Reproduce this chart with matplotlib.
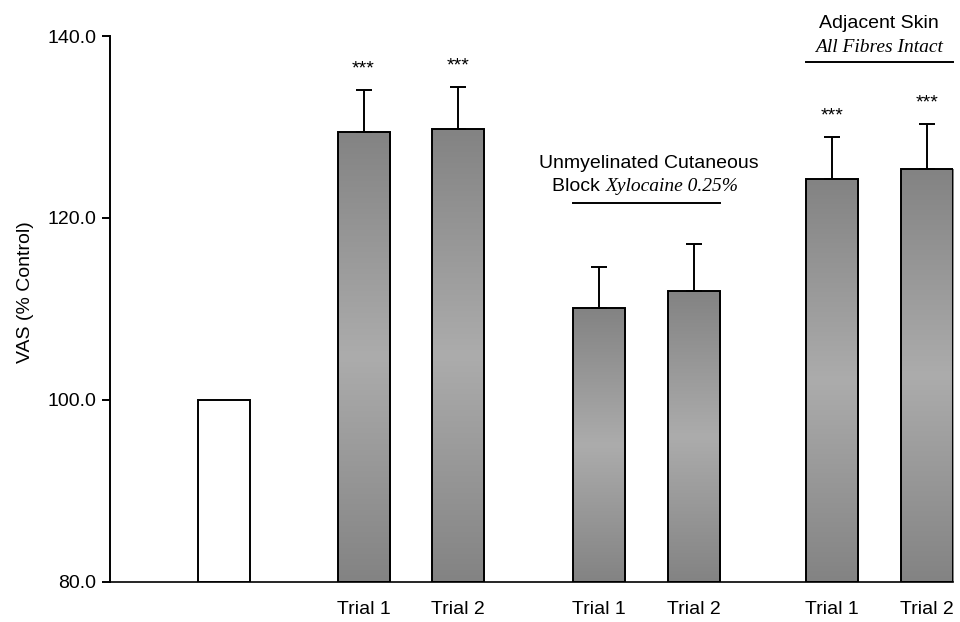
import numpy as np
import matplotlib.pyplot as plt
from matplotlib.colors import LinearSegmentedColormap

# values
positions = [0, 2.68, 4.5, 7.2, 9.02, 11.67, 13.5]
means = [100.0, 129.5, 129.8, 110.1, 112.0, 124.3, 125.4]
sems = [0.0, 4.6, 4.6, 4.5, 5.1, 4.6, 4.9]
tick_labels = ["", "Trial 1", "Trial 2", "Trial 1", "Trial 2", "Trial 1", "Trial 2"]
stars = ["", "***", "***", "", "", "***", "***"]

plt.rcParams['font.family'] = ['Liberation Sans', 'DejaVu Sans']

fig = plt.figure(figsize=(9.6, 6.22), dpi=100)
ax = fig.add_axes([0.1146, 0.065, 0.8781, 0.877])

grey = LinearSegmentedColormap.from_list("g", ["#838383", "#acacac", "#838383"])
grad = np.linspace(0, 1, 256).reshape(-1, 1)

width = 1.0
for i, (x, m, s) in enumerate(zip(positions, means, sems)):
    if i == 0:
        ax.bar(x, m - 80, bottom=80, width=width, color="white",
               edgecolor="black", linewidth=1.4, zorder=3)
        continue
    bar = ax.bar(x, m - 80, bottom=80, width=width, color="none",
                 edgecolor="black", linewidth=1.4, zorder=3)[0]
    im = ax.imshow(grad, cmap=grey, aspect="auto", zorder=2,
                   extent=[x - width / 2, x + width / 2, 80, m])
    im.set_clip_path(bar)
    ax.errorbar(x, m, yerr=[[0], [s]], fmt="none", ecolor="black",
                elinewidth=1.4, capsize=5.6, capthick=1.4, zorder=2)
    if stars[i]:
        ax.text(x, m + s + 2.3, stars[i], ha="center", va="center", fontsize=14)

# group annotations
ax.plot([positions[3] - 0.5, positions[4] + 0.5], [121.6, 121.6], color="black", lw=1.4,
        clip_on=False)
ax.text(8.15, 125.5, "Unmyelinated Cutaneous", ha="center", va="baseline", fontsize=14)
t1 = ax.text(6.3, 122.95, "Block ", ha="left", va="baseline", fontsize=14)
ax.annotate("Xylocaine 0.25%", xy=(1, 0), xycoords=t1, va="bottom", ha="left",
            fontsize=14, family="Liberation Serif", style="italic")

ax.plot([positions[5] - 0.5, positions[6] + 0.5], [137.2, 137.2], color="black", lw=1.4,
        clip_on=False)
ax.text(12.58, 138.2, "All Fibres Intact", ha="center", va="baseline", fontsize=14,
        family="Liberation Serif", style="italic")
ax.text(12.58, 140.9, "Adjacent Skin", ha="center", va="baseline", fontsize=14)

ax.set_xlim(-2.19, positions[-1] + 0.5)
ax.set_ylim(80, 140)
ax.set_yticks([80, 100, 120, 140])
ax.set_yticklabels(["80.0", "100.0", "120.0", "140.0"])
ax.set_xticks(positions)
ax.set_xticklabels(tick_labels)
ax.tick_params(axis="x", length=0, pad=14, labelsize=14)
ax.tick_params(axis="y", length=6, width=1.4, labelsize=14, pad=4)
ax.set_ylabel("VAS (% Control)", fontsize=14)
ax.yaxis.set_label_coords(-0.09, 0.53)

for side in ["top", "right"]:
    ax.spines[side].set_visible(False)
ax.spines["left"].set_linewidth(1.4)
ax.spines["bottom"].set_linewidth(1.2)

fig.savefig("out.png", dpi=100)
